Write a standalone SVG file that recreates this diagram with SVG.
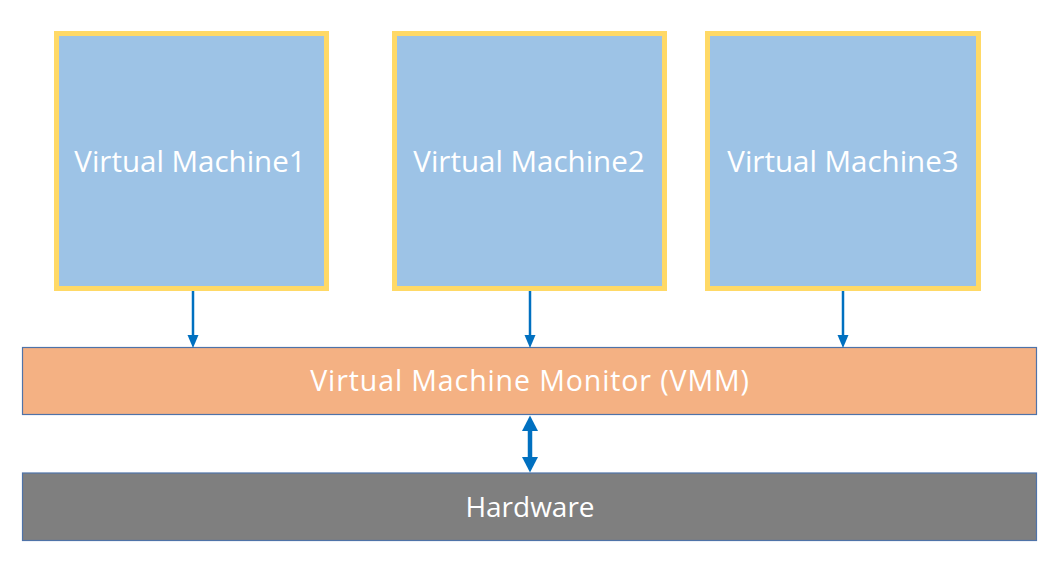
<svg xmlns="http://www.w3.org/2000/svg" width="1047" height="587" viewBox="0 0 1047 587">
<style>
.vm{fill:#9DC3E6;stroke:#FFD966;stroke-width:5}
.bar{stroke:#4F73A8;stroke-width:1.2}
.lbl{font-family:"Open Sans","Noto Sans","Liberation Sans",sans-serif;fill:#FFFFFF;text-anchor:middle}
.conn{stroke:#0070C0;fill:none}
.head{fill:#0070C0}
</style>
<rect width="1047" height="587" fill="#FFFFFF"/>
<g id="vm1"><rect class="vm" x="56.5" y="33.5" width="270" height="255"/><text class="lbl" x="190" y="172" font-size="29.5">Virtual Machine1</text></g>
<g id="vm2"><rect class="vm" x="394.5" y="33.5" width="270" height="255"/><text class="lbl" x="529" y="172" font-size="29.5">Virtual Machine2</text></g>
<g id="vm3"><rect class="vm" x="707.5" y="33.5" width="271" height="255"/><text class="lbl" x="843" y="172" font-size="29.5">Virtual Machine3</text></g>
<g id="vmm"><rect class="bar" x="22.5" y="347.5" width="1014" height="67" fill="#F4B183"/><text class="lbl" x="530" y="391" font-size="28.5" letter-spacing="0.9">Virtual Machine Monitor (VMM)</text></g>
<g id="hardware"><rect class="bar" x="22.5" y="473" width="1014" height="67.5" fill="#7F7F7F"/><text class="lbl" x="530" y="517" font-size="28">Hardware</text></g>
<g id="connectors">
<path class="conn" d="M193,291 V337" stroke-width="2.5"/>
<polygon class="head" points="187.5,335 198.5,335 193,348"/>
<path class="conn" d="M530,291 V337" stroke-width="2.5"/>
<polygon class="head" points="524.5,335 535.5,335 530,348"/>
<path class="conn" d="M843,291 V337" stroke-width="2.5"/>
<polygon class="head" points="837.5,335 848.5,335 843,348"/>
<path class="conn" d="M530,429 V459" stroke-width="4.5"/>
<polygon class="head" points="522,431 538,431 530,415.5"/>
<polygon class="head" points="522,457 538,457 530,472.5"/>
</g>
</svg>
